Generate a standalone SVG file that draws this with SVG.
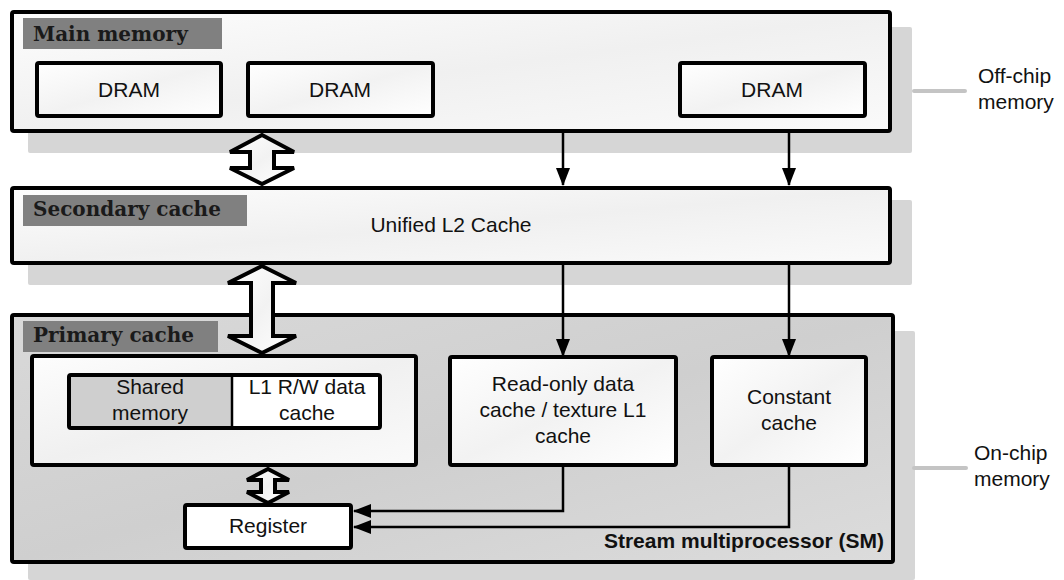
<svg xmlns="http://www.w3.org/2000/svg" width="1064" height="580" viewBox="0 0 1064 580">
  <style>
    .shadow { fill: #d6d6d6; }
    .box { stroke: #000; stroke-width: 4; }
    .lbl { fill: #808080; }
    .lbltxt { font-family: "DejaVu Serif", serif; font-weight: bold; font-size: 20px; fill: #1a1a1a; }
    .t { font-family: "Liberation Sans", Arial, sans-serif; font-size: 21px; fill: #111; text-anchor: middle; }
    .side { font-family: "Liberation Sans", Arial, sans-serif; font-size: 21px; fill: #111; }
    .conn { fill: none; stroke: #000; stroke-width: 2.5; }
    .blk { fill: url(#gWhite); stroke: #000; stroke-width: 4; stroke-linejoin: miter; }
    .brk { stroke: #c4c4c4; stroke-width: 4; stroke-linecap: round; }
  </style>
  <defs>
    <linearGradient id="gWhite" x1="0" y1="0" x2="1" y2="1">
      <stop offset="0" stop-color="#ffffff"/>
      <stop offset="0.5" stop-color="#f2f2f2"/>
      <stop offset="1" stop-color="#ffffff"/>
    </linearGradient>
    <linearGradient id="gLight" x1="0" y1="0" x2="1" y2="1">
      <stop offset="0" stop-color="#fdfdfd"/>
      <stop offset="0.5" stop-color="#f0f0f0"/>
      <stop offset="1" stop-color="#fafafa"/>
    </linearGradient>
    <linearGradient id="gGray" x1="0" y1="0" x2="1" y2="1">
      <stop offset="0" stop-color="#d9d9d9"/>
      <stop offset="0.5" stop-color="#cfcfcf"/>
      <stop offset="1" stop-color="#dcdcdc"/>
    </linearGradient>
    <marker id="ah" viewBox="0 0 18 14" refX="17" refY="7" markerWidth="18" markerHeight="14" markerUnits="userSpaceOnUse" orient="auto">
      <path d="M0,0 L18,7 L0,14 Z" fill="#000"/>
    </marker>
  </defs>

  <!-- shadows -->
  <rect class="shadow" x="28" y="27" width="884" height="126" rx="2"/>
  <rect class="shadow" x="28" y="200" width="884" height="85" rx="2"/>
  <rect class="shadow" x="28" y="331" width="887" height="249" rx="2"/>

  <!-- side labels -->
  <g id="offchip">
    <line class="brk" x1="914" y1="91" x2="965" y2="91"/>
    <text class="side" x="978" y="83">Off-chip</text>
    <text class="side" x="978" y="109">memory</text>
  </g>
  <g id="onchip">
    <line class="brk" x1="914" y1="468" x2="966" y2="468"/>
    <text class="side" x="974" y="460">On-chip</text>
    <text class="side" x="974" y="486">memory</text>
  </g>

  <g id="main-memory">
    <rect class="box" x="12" y="12" width="878" height="119" rx="2" fill="url(#gLight)"/>
    <rect class="lbl" x="23" y="18" width="199" height="31"/>
    <text class="lbltxt" x="33" y="41">Main memory</text>
  </g>
  <g id="dram1">
    <rect class="box" x="37" y="63" width="184" height="53" rx="2" fill="url(#gWhite)"/>
    <text class="t" x="129" y="97">DRAM</text>
  </g>
  <g id="dram2">
    <rect class="box" x="248" y="63" width="185" height="53" rx="2" fill="url(#gWhite)"/>
    <text class="t" x="340" y="97">DRAM</text>
  </g>
  <g id="dram3">
    <rect class="box" x="680" y="63" width="185" height="53" rx="2" fill="url(#gWhite)"/>
    <text class="t" x="772" y="97">DRAM</text>
  </g>

  <g id="secondary-cache">
    <rect class="box" x="12" y="188" width="878" height="75" rx="2" fill="url(#gLight)"/>
    <rect class="lbl" x="23" y="195" width="224" height="31"/>
    <text class="lbltxt" x="33" y="216">Secondary cache</text>
    <text class="t" x="451" y="232">Unified L2 Cache</text>
  </g>

  <g id="primary-cache">
    <rect class="box" x="12" y="315" width="881" height="247" rx="2" fill="url(#gGray)"/>
    <rect class="lbl" x="23" y="321" width="195" height="31"/>
    <text class="lbltxt" x="33" y="342">Primary cache</text>
    <text class="t" x="884" y="548" style="font-weight:bold;text-anchor:end">Stream multiprocessor (SM)</text>
  </g>

  <g id="l1-container">
    <rect class="box" x="32" y="356" width="384" height="109" rx="2" fill="url(#gLight)"/>
  </g>
  <g id="shared-memory">
    <rect x="69" y="375" width="163" height="53" fill="#cfcfcf"/>
    <text class="t" x="150" y="394">Shared</text>
    <text class="t" x="150" y="420">memory</text>
  </g>
  <g id="l1-rw">
    <rect x="232" y="375" width="148" height="53" fill="#ffffff"/>
    <text class="t" x="307" y="394">L1 R/W data</text>
    <text class="t" x="307" y="420">cache</text>
  </g>
  <rect x="69" y="375" width="311" height="53" rx="2" fill="none" stroke="#000" stroke-width="4"/>
  <line x1="232" y1="375" x2="232" y2="428" stroke="#000" stroke-width="2.5"/>

  <g id="readonly">
    <rect class="box" x="450" y="357" width="226" height="108" rx="2" fill="url(#gWhite)"/>
    <text class="t" x="563" y="391">Read-only data</text>
    <text class="t" x="563" y="417">cache / texture L1</text>
    <text class="t" x="563" y="443">cache</text>
  </g>
  <g id="constant">
    <rect class="box" x="712" y="357" width="154" height="108" rx="2" fill="url(#gWhite)"/>
    <text class="t" x="789" y="404">Constant</text>
    <text class="t" x="789" y="430">cache</text>
  </g>
  <g id="register">
    <rect class="box" x="185" y="505" width="166" height="43" rx="2" fill="#ffffff"/>
    <text class="t" x="268" y="533">Register</text>
  </g>

  <g id="connectors">
    <path class="blk" d="M262,135 L294,152 L274,152 L274,168 L294,168 L262,184 L230,168 L250,168 L250,152 L230,152 Z"/>
    <path class="blk" d="M262,266 L296,283 L273,283 L273,336 L296,336 L262,353 L228,336 L251,336 L251,283 L228,283 Z"/>
    <path class="blk" d="M268,469 L289,480 L275,480 L275,492 L289,492 L268,503 L247,492 L261,492 L261,480 L247,480 Z"/>
    <line class="conn" x1="563" y1="133" x2="563" y2="185" marker-end="url(#ah)"/>
    <line class="conn" x1="789" y1="133" x2="789" y2="185" marker-end="url(#ah)"/>
    <line class="conn" x1="563" y1="265" x2="563" y2="356" marker-end="url(#ah)"/>
    <line class="conn" x1="789" y1="265" x2="789" y2="356" marker-end="url(#ah)"/>
    <polyline class="conn" points="563,467 563,511 354,511" marker-end="url(#ah)"/>
    <polyline class="conn" points="789,467 789,527 354,527" marker-end="url(#ah)"/>
  </g>
</svg>
